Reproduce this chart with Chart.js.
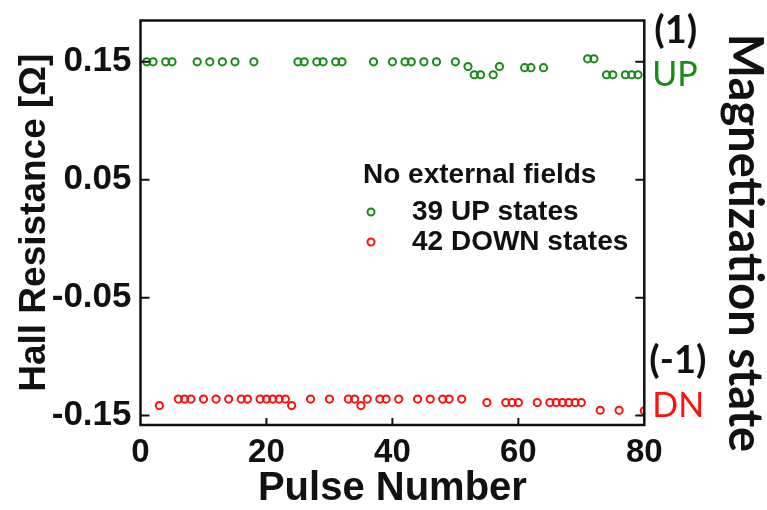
<!DOCTYPE html>
<html>
<head>
<meta charset="utf-8">
<script src="https://cdn.jsdelivr.net/npm/chart.js@4/dist/chart.umd.min.js"></script>
<style>
  html, body { margin: 0; padding: 0; background: #ffffff; }
  #wrap { width: 767px; height: 510px; }
</style>
</head>
<body>
<div id="wrap"><canvas id="c" width="767" height="510"></canvas></div>
<script>
// Pulses that left the film in the UP state, and their Hall resistance (ohm)
const upPulses = [1, 2, 4, 5, 9, 11, 13, 15, 18, 25, 26, 28, 29, 31, 32, 37, 40, 42, 43, 45, 47, 50,
                  52, 53, 54, 56, 57, 61, 62, 64, 71, 72, 74, 75, 77, 78, 79];
const upHall   = [0.150, 0.150, 0.150, 0.150, 0.150, 0.150, 0.150, 0.150, 0.150, 0.150, 0.150, 0.150,
                  0.150, 0.150, 0.150, 0.150, 0.150, 0.150, 0.150, 0.150, 0.150, 0.150,
                  0.146, 0.139, 0.139, 0.139, 0.146, 0.145, 0.145, 0.145, 0.1525, 0.1525,
                  0.139, 0.139, 0.139, 0.139, 0.139];

// Pulses that left the film in the DOWN state, and their Hall resistance (ohm)
const dnPulses = [3, 6, 7, 8, 10, 12, 14, 16, 17, 19, 20, 21, 22, 23, 24, 27, 30, 33, 34, 35, 36,
                  38, 39, 41, 44, 46, 48, 49, 51, 55, 58, 59, 60, 63, 65, 66, 67, 68, 69, 70, 73, 76, 80];
const dnHall   = [-0.1415, -0.136, -0.136, -0.136, -0.136, -0.136, -0.136, -0.136, -0.136, -0.136,
                  -0.136, -0.136, -0.136, -0.136, -0.1415, -0.136, -0.136, -0.136, -0.136, -0.1415,
                  -0.136, -0.136, -0.136, -0.136, -0.136, -0.136, -0.136, -0.136, -0.136,
                  -0.139, -0.139, -0.139, -0.139, -0.139, -0.139, -0.139, -0.139, -0.139, -0.139,
                  -0.139, -0.1455, -0.1455, -0.146];

const seriesLabels = ['39 UP states', '42 DOWN states'];
const legendTitle = 'No external fields';

const xTickValues = [0, 20, 40, 60, 80];
const yTickValues = [0.15, 0.05, -0.05, -0.15];
const yTickLabels = ['0.15', '0.05', '-0.05', '-0.15'];

// Magnetization-state labels on the right-hand side
const stateLevels = [0.15, -0.15];
const stateNumbers = ['(1)', '(-1)'];
const stateNames = ['UP', 'DN'];

const GREEN = '#178a17';
const RED = '#ff1010';

const toPoints = (xs, ys) => xs.map((x, i) => ({ x: x, y: ys[i] }));

// Box frame, inward tick marks, the inset legend and the state labels
const framePlugin = {
  id: 'frame',
  afterDraw(chart) {
    const { ctx, chartArea: a, scales } = chart;
    const xs = scales.x, ys = scales.y;
    ctx.save();
    ctx.strokeStyle = '#111';
    ctx.lineWidth = 2.5;
    ctx.strokeRect(a.left, a.top, a.right - a.left, a.bottom - a.top);

    ctx.lineWidth = 2;
    ctx.beginPath();
    yTickValues.forEach(v => {
      const py = ys.getPixelForValue(v);
      ctx.moveTo(a.left, py); ctx.lineTo(a.left + 9, py);
      ctx.moveTo(a.right, py); ctx.lineTo(a.right - 9, py);
    });
    xTickValues.slice(1, -1).forEach(v => {
      const px = xs.getPixelForValue(v);
      ctx.moveTo(px, a.bottom); ctx.lineTo(px, a.bottom - 7);
    });
    ctx.stroke();

    // inset legend
    const lx = 363, ly = 175;
    ctx.fillStyle = '#111';
    ctx.font = 'bold 28px "Liberation Sans", Arial, sans-serif';
    ctx.textAlign = 'left';
    ctx.textBaseline = 'middle';
    ctx.fillText(legendTitle, lx, ly);
    chart.data.datasets.forEach((ds, i) => {
      const ry = ly + 37 + i * 30;
      ctx.strokeStyle = ds.borderColor;
      ctx.lineWidth = 2;
      ctx.beginPath();
      ctx.arc(371, ry, 3.5, 0, Math.PI * 2);
      ctx.stroke();
      ctx.fillStyle = '#111';
      ctx.fillText(ds.label, 412, ry);
    });

    // magnetization state labels
    const sx = a.right + 8;
    stateLevels.forEach((v, i) => {
      const py = ys.getPixelForValue(v);
      ctx.textAlign = 'left';
      ctx.fillStyle = '#111';
      ctx.font = 'bold 38px Lato, "Open Sans", sans-serif';
      ctx.fillText(stateNumbers[i], i === 0 ? sx + 2 : sx - 3, i === 0 ? py - 31 : py - 55);
      ctx.fillStyle = i === 0 ? GREEN : RED;
      ctx.font = '34px Lato, "Open Sans", sans-serif';
      ctx.fillText(stateNames[i], sx, i === 0 ? py + 13 : py - 10);
    });

    // right axis title, read top to bottom
    ctx.save();
    ctx.translate(729, 243);
    ctx.rotate(Math.PI / 2);
    ctx.fillStyle = '#111';
    ctx.font = 'bold 47px Lato, "Open Sans", sans-serif';
    ctx.textAlign = 'center';
    ctx.textBaseline = 'alphabetic';
    ctx.fillText('Magnetization state', 0, 0);
    ctx.restore();

    ctx.restore();
  }
};

new Chart(document.getElementById('c'), {
  type: 'scatter',
  data: {
    datasets: [
      {
        label: seriesLabels[0],
        data: toPoints(upPulses, upHall),
        borderColor: GREEN,
        backgroundColor: 'rgba(0,0,0,0)',
        pointRadius: 3.6,
        pointBorderWidth: 2,
        pointStyle: 'circle'
      },
      {
        label: seriesLabels[1],
        data: toPoints(dnPulses, dnHall),
        borderColor: RED,
        backgroundColor: 'rgba(0,0,0,0)',
        pointRadius: 3.6,
        pointBorderWidth: 2,
        pointStyle: 'circle'
      }
    ]
  },
  options: {
    responsive: false,
    devicePixelRatio: 1,
    animation: false,
    layout: { padding: { left: 0, top: 20.5, right: 122.7, bottom: 0 } },
    plugins: { legend: { display: false }, tooltip: { enabled: false } },
    scales: {
      x: {
        type: 'linear',
        min: 0,
        max: 80,
        afterBuildTicks: s => { s.ticks = xTickValues.map(v => ({ value: v })); },
        afterFit: s => { s.height = 85; s.paddingLeft = 0; s.paddingRight = 0; },
        grid: { display: false, drawTicks: false },
        border: { display: false },
        ticks: {
          padding: 8,
          color: '#111',
          font: { family: '"Liberation Sans", Arial, sans-serif', size: 33, weight: 'bold' },
          maxRotation: 0
        },
        title: {
          display: true,
          text: 'Pulse Number',
          color: '#111',
          font: { family: '"Liberation Sans", Arial, sans-serif', size: 40, weight: 'bold', lineHeight: 1.05 },
          padding: { top: 0, bottom: 0 }
        }
      },
      y: {
        type: 'linear',
        min: -0.158,
        max: 0.185,
        afterBuildTicks: s => { s.ticks = yTickValues.map(v => ({ value: v })); },
        afterFit: s => { s.width = 140.5; s.paddingTop = 0; s.paddingBottom = 0; },
        grid: { display: false, drawTicks: false },
        border: { display: false },
        ticks: {
          padding: 9,
          color: '#111',
          font: { family: '"Liberation Sans", Arial, sans-serif', size: 35, weight: 'bold' },
          callback: v => yTickLabels[yTickValues.indexOf(v)]
        },
        title: {
          display: true,
          text: 'Hall Resistance [Ω]',
          color: '#111',
          font: { family: '"Liberation Sans", Arial, sans-serif', size: 37, weight: 'bold' },
          padding: { top: 13, bottom: 0 }
        }
      }
    }
  },
  plugins: [framePlugin]
});
</script>
</body>
</html>
